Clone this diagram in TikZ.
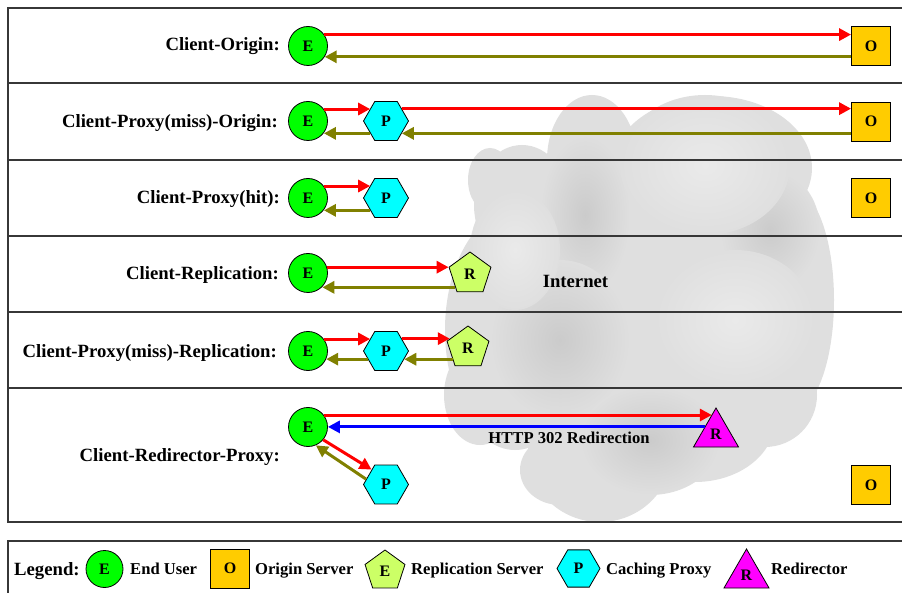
\documentclass[tikz,border=0pt]{standalone}
\usepackage{fontspec}
\setmainfont{Liberation Serif}
\usetikzlibrary{arrows.meta,positioning,calc,shapes.geometric}
\definecolor{userGreen}{RGB}{0,255,0}
\definecolor{originGold}{RGB}{255,204,0}
\definecolor{replicaLime}{RGB}{204,255,102}
\definecolor{proxyCyan}{RGB}{0,255,255}
\definecolor{redirMagenta}{RGB}{255,0,255}
\definecolor{reqRed}{RGB}{255,0,0}
\definecolor{respOlive}{RGB}{128,128,0}
\definecolor{redirBlue}{RGB}{0,0,255}
\definecolor{cloudA}{RGB}{223,223,223}
\definecolor{cloudB}{RGB}{203,203,203}
\definecolor{cloudC}{RGB}{234,234,234}
\definecolor{rule}{RGB}{55,55,55}
\tikzset{
  ent/.style={draw=black,line width=0.8pt,inner sep=0pt,font=\fontsize{16}{16}\selectfont\bfseries},
  user/.style={ent,circle,fill=userGreen,minimum size=39pt},
  origin/.style={ent,rectangle,fill=originGold,minimum size=39pt},
  replica/.style={ent,regular polygon,regular polygon sides=5,fill=replicaLime,minimum size=44pt},
  proxy/.style={ent,regular polygon,regular polygon sides=6,fill=proxyCyan,minimum size=45pt},
  redir/.style={ent,regular polygon,regular polygon sides=3,fill=redirMagenta,minimum size=52pt},
  rowlbl/.style={anchor=base east,inner sep=0pt,font=\fontsize{18.7}{22}\selectfont\bfseries},
  lgd/.style={anchor=base west,inner sep=0pt,font=\fontsize{16.6}{20}\selectfont\bfseries},
  req/.style={-{Triangle[length=12pt,width=12pt]},line width=3pt,reqRed},
  resp/.style={-{Triangle[length=12pt,width=12pt]},line width=3pt,respOlive},
  redirect/.style={-{Triangle[length=12pt,width=12pt]},line width=3pt,redirBlue},
  sep/.style={draw=rule,line width=1.1pt},
  dark/.style={inner color=cloudB,outer color=cloudA},
  light/.style={inner color=cloudC,outer color=cloudA},
}

\begin{document}
\begin{tikzpicture}[x=1pt,y=-1pt]
\useasboundingbox (0,0) rectangle (902,593);
\clip (0,0) rectangle (902,593);

% internet cloud
\fill[cloudA]
  (515,330) ellipse [x radius=70,y radius=120]
  (522,205) ellipse [x radius=48,y radius=60]
  (592,160) ellipse [x radius=45,y radius=65]
  (712,168) ellipse [x radius=100,y radius=72]
  (792,300) ellipse [x radius=42,y radius=112]
  (650,320) ellipse [x radius=160,y radius=140]
  (600,452) ellipse [x radius=72,y radius=70]
  (560,470) ellipse [x radius=40,y radius=35]
  (695,420) ellipse [x radius=80,y radius=62]
  (765,395) ellipse [x radius=52,y radius=52]
  (480,395) ellipse [x radius=36,y radius=50]
  (490,180) ellipse [x radius=22,y radius=32];
\shade[dark] (585,215) ellipse [x radius=45,y radius=80];
\shade[dark] (560,340) ellipse [x radius=70,y radius=80];
\shade[dark] (770,230) ellipse [x radius=50,y radius=60];
\shade[dark] (650,440) ellipse [x radius=70,y radius=55];
\shade[light] (705,165) ellipse [x radius=85,y radius=70];
\shade[light] (735,320) ellipse [x radius=80,y radius=70];
\shade[light] (515,250) ellipse [x radius=45,y radius=60];
\node[anchor=base,inner sep=0pt,font=\fontsize{18.7}{22}\selectfont\bfseries] (inet) at (575.5,288) {Internet};

% frame and rows
\draw[sep] (8,8) rectangle (912,522);
\foreach \yy in {83,160,236,312,388}
  \draw[sep] (8,\yy) -- (912,\yy);
\draw[sep] (8,541) rectangle (912,600);

% row labels
\node[rowlbl] (l1) at (280,51) {Client-Origin:};
\node[rowlbl] (l2) at (278,127.5) {Client-Proxy(miss)-Origin:};
\node[rowlbl] (l3) at (280,203.5) {Client-Proxy(hit):};
\node[rowlbl] (l4) at (279,279.5) {Client-Replication:};
\node[rowlbl] (l5) at (277,357.5) {Client-Proxy(miss)-Replication:};
\node[rowlbl] (l6) at (280,461.5) {Client-Redirector-Proxy:};

% Client-Origin
\node[user] (e1) at (308,46) {E};
\node[origin] (o1) at (871,46) {O};
\draw[req] (e1.35) -- (e1.35 -| o1.west);
\draw[resp] (o1.west |- e1.-33) -- (e1.-33);

% Client-Proxy(miss)-Origin
\node[user] (e2) at (308,121) {E};
\node[proxy] (p2) at (386,121) {P};
\node[origin] (o2) at (871,121.5) {O};
\draw[req] (e2.37) -- (e2.37 -| p2.142);
\draw[req] (p2.38) -- (p2.38 -| o2.west);
\draw[resp] (o2.west |- p2.-38) -- (p2.-38);
\draw[resp] (p2.-142) -- (p2.-142 -| e2.-37);

% Client-Proxy(hit)
\node[user] (e3) at (308,198) {E};
\node[proxy] (p3) at (386,198) {P};
\node[origin] (o3) at (871,198) {O};
\draw[req] (e3.37) -- (e3.37 -| p3.142);
\draw[resp] (p3.-142) -- (p3.-142 -| e3.-37);

% Client-Replication
\node[user] (e4) at (308,273) {E};
\node[replica] (r4) at (470,274) {R};
\draw[req] (e4.17) -- (e4.17 -| r4.162);
\draw[resp] (r4.-138) -- (r4.-138 -| e4.-44);

% Client-Proxy(miss)-Replication
\node[user] (e5) at (308,351) {E};
\node[proxy] (p5) at (386,351) {P};
\node[replica] (r5) at (468,348) {R};
\draw[req] (e5.37) -- (e5.37 -| p5.142);
\draw[req] (p5.38) -- (p5.38 -| r5.153);
\draw[resp] (r5.-144) -- (r5.-144 -| p5.-24);
\draw[resp] (p5.-156) -- (p5.-156 -| e5.-24);

% Client-Redirector-Proxy
\node[user] (e6) at (308,427) {E};
\node[redir] (r6) at (716,434) {R};
\node[proxy] (p6) at (386,484.5) {P};
\node[origin] (o6) at (871,485) {O};
\draw[req] (e6.37) -- (e6.37 -| r6.102);
\draw[redirect] (r6.148) -- node[pos=0.36,anchor=base,yshift=-17pt,inner sep=0pt,
  font=\fontsize{16.6}{20}\selectfont\bfseries,text=black] {HTTP 302 Redirection} (r6.148 -| e6.east);
\draw[req] (e6.-40) -- (p6.134);
\draw[resp] (p6.165) -- (e6.-67);

% legend
\node[lgd,font=\fontsize{18.7}{22}\selectfont\bfseries] (lg) at (14,575) {Legend:};
\node[user,minimum size=37pt] (lgE) at (104.5,569) {E};
\node[lgd] (lgEt) at (130,574) {End User};
\node[origin] (lgO) at (230,568.5) {O};
\node[lgd] (lgOt) at (255,574) {Origin Server};
\node[replica,minimum size=42pt] (lgR) at (385,571) {E};
\node[lgd] (lgRt) at (411,574) {Replication Server};
\node[proxy,minimum size=43pt] (lgP) at (578.5,568.5) {P};
\node[lgd] (lgPt) at (606,574) {Caching Proxy};
\node[redir] (lgX) at (746.5,575) {R};
\node[lgd] (lgXt) at (771,574) {Redirector};
\end{tikzpicture}
\end{document}
